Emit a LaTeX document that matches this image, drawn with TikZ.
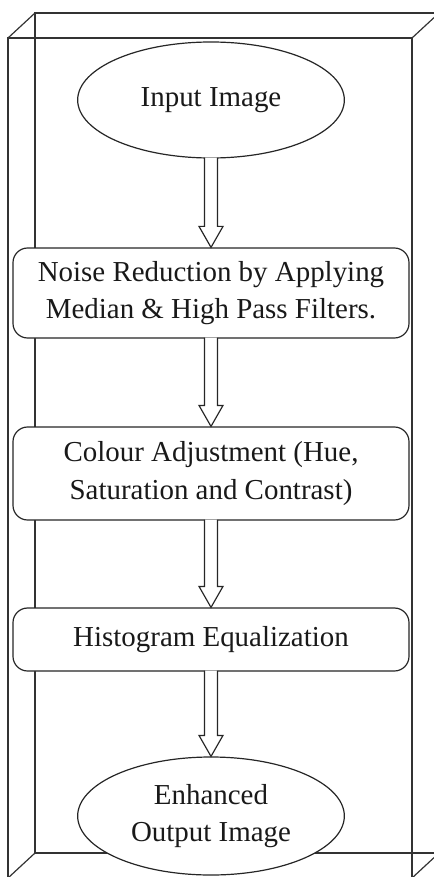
\documentclass[tikz,border=0pt]{standalone}
\usepackage{fontspec}
\setmainfont{Liberation Serif}
\usetikzlibrary{shapes.geometric,calc}
\newcommand\flowarrow[2]{%
  \draw[arrowline] ($(#1.south)+(-6.5,-1)$) -- ($(#2.north)+(-6.5,-21)$) -- ($(#2.north)+(-12,-21)$)
    -- (#2.north) -- ($(#2.north)+(12,-21)$) -- ($(#2.north)+(6.5,-21)$) -- ($(#1.south)+(6.5,-1)$);}
\begin{document}
\begin{tikzpicture}[x=0.75pt,y=-0.75pt,
  frame/.style={draw=black!80, line width=0.9pt},
  txt/.style={align=center, text=black!90, font=\fontsize{21.7}{28}\selectfont},
  oval/.style={txt, ellipse, draw=black!85, line width=0.9pt, fill=white, inner sep=0pt, minimum width=200pt},
  procbox/.style={txt, rectangle, rounded corners=11pt, draw=black!85, line width=0.9pt, fill=white, minimum width=297pt, inner sep=0pt},
  arrowline/.style={draw=black!85, line width=0.9pt, fill=white}]
\useasboundingbox (0,0) rectangle (434,877);
\clip (0,0) rectangle (434,877);
% 3D frame
\draw[frame] (35,13) rectangle (439,853);
\draw[frame] (8,38) rectangle (412,878);
\draw[frame] (8,38) -- (35,13);
\draw[frame] (412,38) -- (439,13);
\draw[frame] (8,878) -- (35,853);
\draw[frame] (412,878) -- (439,853);
% nodes
\node[oval, minimum height=87pt] (input) at (211,100) {Input Image};
\node[procbox, minimum height=67.5pt] (noise) at (211,293) {Noise Reduction by Applying\\Median \& High Pass Filters.};
\node[procbox, minimum height=69.75pt] (colour) at (211,473.5) {Colour Adjustment (Hue,\\Saturation and Contrast)};
\node[procbox, minimum height=47.25pt] (hist) at (211,639.5) {Histogram Equalization};
\node[oval, minimum height=88.5pt] (output) at (211,816) {Enhanced\\Output Image};
% arrows
\flowarrow{input}{noise}
\flowarrow{noise}{colour}
\flowarrow{colour}{hist}
\flowarrow{hist}{output}
\end{tikzpicture}
\end{document}
